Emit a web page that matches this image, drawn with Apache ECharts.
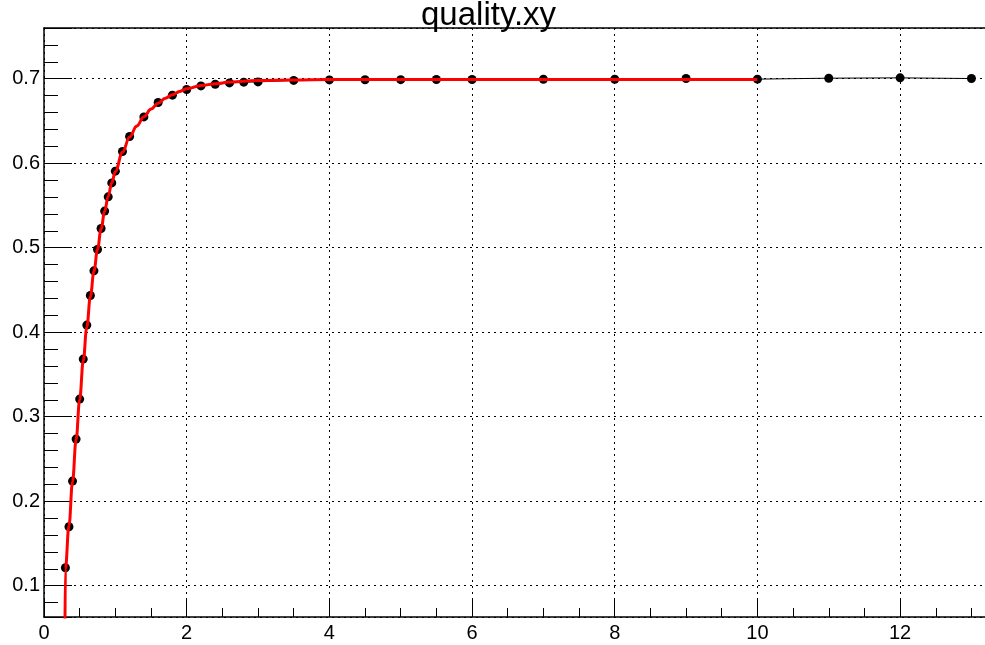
<!DOCTYPE html>
<html>
<head>
<meta charset="utf-8">
<script src="https://cdn.jsdelivr.net/npm/echarts@6/dist/echarts.min.js"></script>
<style>
  html, body { margin: 0; padding: 0; background: #ffffff; }
  #chart { width: 985px; height: 645px; }
</style>
</head>
<body>
<div id="chart"></div>
<script>
// Graph title
const chartTitle = 'quality.xy';

// Measured points (x, quality)
const xValues = [0.3, 0.35, 0.4, 0.45, 0.5, 0.55, 0.6, 0.65, 0.7, 0.75, 0.8, 0.85, 0.9, 0.95, 1.0,
                 1.1, 1.2, 1.4, 1.6, 1.8, 2.0, 2.2, 2.4, 2.6, 2.8, 3.0, 3.5,
                 4, 4.5, 5, 5.5, 6, 7, 8, 9, 10, 11, 12, 13];
const yValues = [0.1213, 0.1698, 0.2238, 0.2735, 0.3209, 0.3682, 0.4084, 0.4435, 0.4726, 0.4979,
                 0.5228, 0.5433, 0.5602, 0.5767, 0.5906,
                 0.6139, 0.6316, 0.6548, 0.6718, 0.6805, 0.6872, 0.6915, 0.6935, 0.6950, 0.6959, 0.6962, 0.6980,
                 0.6986, 0.6988, 0.6989, 0.6990, 0.6990, 0.6994, 0.6994, 0.7002, 0.6995, 0.7006, 0.7010, 0.7002];

// Fitted curve, sampled over the fit range
const fitX = [0.293, 0.3, 0.35, 0.4, 0.45, 0.5, 0.55, 0.6, 0.65, 0.7, 0.75, 0.8, 0.85, 0.9, 0.95, 1.0,
              1.1, 1.2, 1.3, 1.4, 1.5, 1.6, 1.7, 1.8, 1.9, 2.0, 2.2, 2.4, 2.6, 2.8, 3.0, 3.5, 4.0, 5.0, 6.0, 8.0, 10.0];
const fitY = [0.04, 0.120, 0.171, 0.223, 0.273, 0.320, 0.366, 0.406, 0.442, 0.472, 0.498, 0.522, 0.543,
              0.561, 0.577, 0.590, 0.613, 0.631, 0.644, 0.655, 0.664, 0.671, 0.677, 0.681, 0.685,
              0.688, 0.692, 0.694, 0.696, 0.697, 0.698, 0.6985, 0.699, 0.699, 0.699, 0.699, 0.699];

// Axis ranges (frame runs slightly past the right edge of the canvas)
const xRange = [0, 13.19];
const yRange = [0.063, 0.76];

const FONT = 'Liberation Sans, Arial, Helvetica, sans-serif';

const points = xValues.map((x, i) => [x, yValues[i]]);
const fitPoints = fitX.map((x, i) => [x, fitY[i]]);

const dotted = { color: '#000', width: 1, type: [2, 4] };
const black = { color: '#000', width: 1 };

const chart = echarts.init(document.getElementById('chart'), null, { renderer: 'canvas' });
chart.setOption({
  animation: false,
  backgroundColor: '#ffffff',
  title: {
    text: chartTitle,
    left: 421,
    top: -1,
    padding: 0,
    textStyle: { fontFamily: FONT, fontSize: 33, fontWeight: 'normal', color: '#000' }
  },
  grid: { left: 44, right: -2, top: 28, bottom: 28, show: false },
  xAxis: [
    {
      type: 'value',
      min: xRange[0], max: xRange[1], interval: 2,
      axisLine: { show: true, onZero: false, lineStyle: { color: '#000', width: 1.5 } },
      axisTick: { show: true, inside: true, length: 18, lineStyle: black },
      minorTick: { show: true, splitNumber: 4, length: 9, lineStyle: black },
      splitLine: { show: true, lineStyle: dotted },
      axisLabel: {
        show: true, margin: 6, color: '#000', fontFamily: FONT, fontSize: 20,
        showMaxLabel: false
      }
    },
    {
      // frame top edge
      type: 'value', position: 'top',
      min: xRange[0], max: xRange[1],
      axisLine: { show: true, onZero: false, lineStyle: { color: '#000', width: 1.5 } },
      axisTick: { show: false }, axisLabel: { show: false }, splitLine: { show: false }
    }
  ],
  yAxis: {
    type: 'value',
    min: yRange[0], max: yRange[1], splitNumber: 7,
    axisLine: { show: true, onZero: false, lineStyle: { color: '#000', width: 1.5 } },
    axisTick: { show: true, inside: true, length: 28, lineStyle: black },
    minorTick: { show: true, splitNumber: 5, length: 14, lineStyle: black },
    splitLine: { show: true, lineStyle: dotted },
    axisLabel: {
      show: true, margin: 4, color: '#000', fontFamily: FONT, fontSize: 20,
      padding: [4, 0, 0, 0],
      showMinLabel: false, showMaxLabel: false,
      formatter: v => v.toFixed(1)
    }
  },
  series: [
    {
      name: 'data',
      type: 'line',
      data: points,
      symbol: 'circle',
      symbolSize: 9,
      itemStyle: { color: '#000' },
      lineStyle: { color: '#000', width: 1 },
      z: 3
    },
    {
      name: 'fit',
      type: 'line',
      data: fitPoints,
      showSymbol: false,
      symbol: 'none',
      smooth: 0.4,
      smoothMonotone: 'x',
      lineStyle: { color: '#ff0000', width: 3 },
      z: 4
    }
  ]
});
</script>
</body>
</html>
